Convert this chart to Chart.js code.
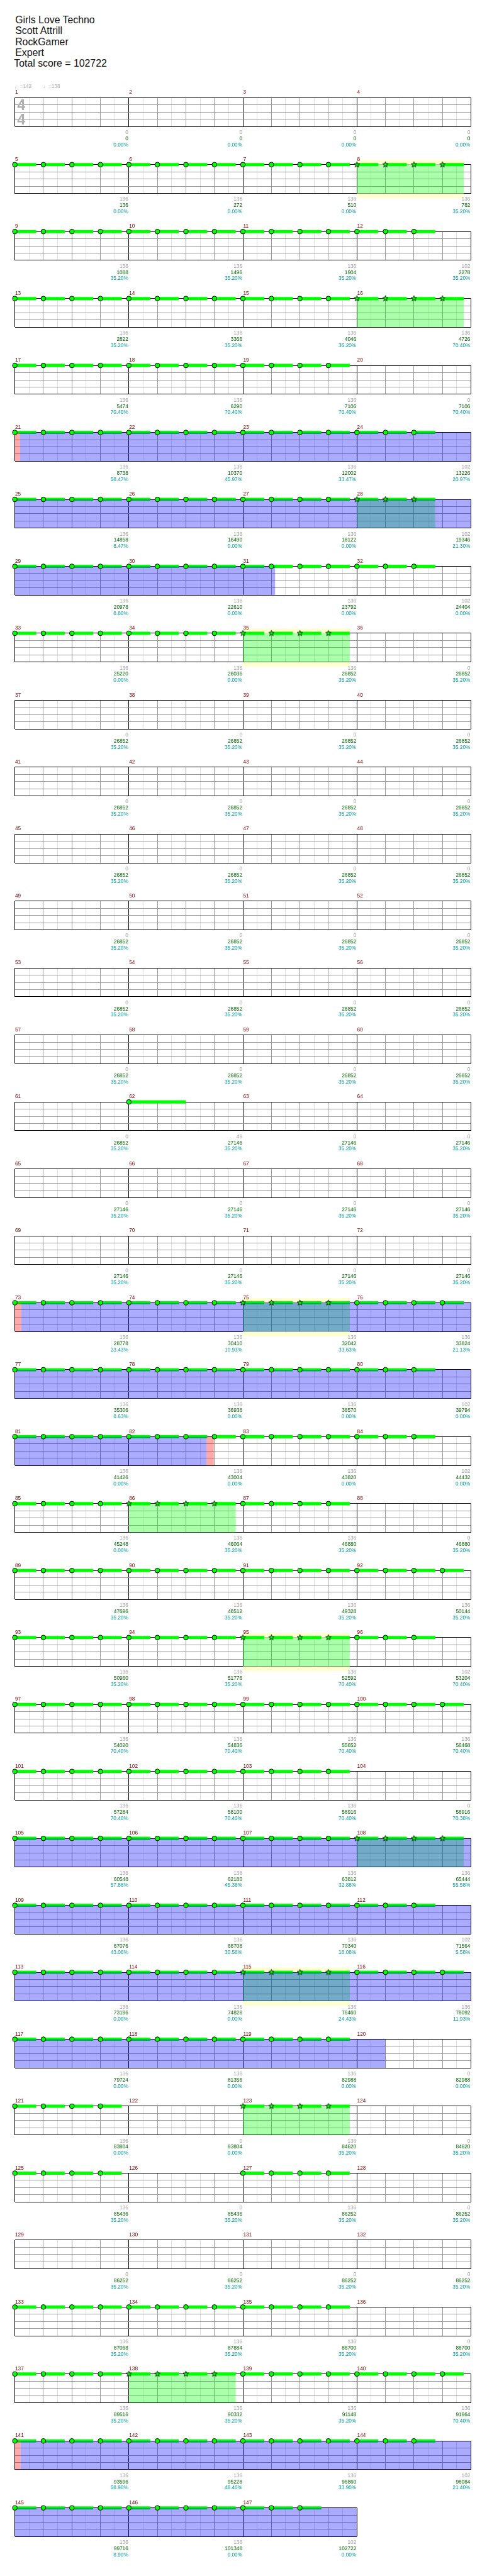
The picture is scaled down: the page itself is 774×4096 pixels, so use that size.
<!DOCTYPE html>
<html>
<head>
<meta charset="utf-8">
<script src="https://cdn.jsdelivr.net/npm/chart.js@4.4.1/dist/chart.umd.min.js"></script>
<style>
  html, body { margin: 0; padding: 0; background: #fff; }
  #page { position: relative; width: 774px; height: 4096px; overflow: hidden; }
  .hdr { position: absolute; white-space: nowrap; color: #111; font-family: "Liberation Sans", Arial, sans-serif; line-height: 1; }
  .row { position: absolute; left: 0; }
</style>
</head>
<body>
<div id="page"></div>
<script>
// song info
const songInfo = ['Girls Love Techno', 'Scott Attrill', 'RockGamer', 'Expert'];
const totalScore = 102722;

// tempo changes (beat, bpm) and time signature
const tempoBeats = [0, 1];
const tempoValues = [142, 138];
const timeSig = [4, 4];

// notes in each measure, one per beat from the downbeat, all on the top lane
const noteCounts = [
  0,0,0,0,  4,4,4,4,  4,4,4,3,  4,4,4,4,  4,4,4,0,
  4,4,4,3,  4,4,4,3,  4,4,4,3,  4,4,4,0,  0,0,0,0,
  0,0,0,0,  0,0,0,0,  0,0,0,0,  0,0,0,0,  0,0,0,0,
  0,1,0,0,  0,0,0,0,  0,0,0,0,  4,4,4,4,  4,4,4,3,
  4,4,4,3,  4,4,4,0,  4,4,4,4,  4,4,4,3,  4,4,4,4,
  4,4,4,0,  4,4,4,4,  4,4,4,3,  4,4,4,4,  4,4,4,0,
  4,0,4,0,  4,0,4,0,  0,0,0,0,  4,4,4,0,  4,4,4,4,
  4,4,4,3,  4,4,3
];
// sustain length in beats (normal notes) and the one long sustain
const sustainBeats = 0.75;
const longSustainMeasure = 62;
const longSustainBeats = 2;

// star power phrases (measures whose notes are stars)
const starMeasures = [8, 16, 28, 35, 75, 86, 95, 108, 115, 123, 138];
// star phrases that get the yellow band
const yellowMeasures = [8, 35, 75, 95, 115];

// overdrive spans in song beats, and the red activation marks
const overdriveStart = [80.18, 288.22, 416, 560.2];
const overdriveEnd   = [121.13, 326.73, 477, 589.4];
const markStart = [80, 288, 326.73, 560, 589.4];
const markEnd   = [80.18, 288.22, 326.98, 560.2, 589.65];

// per-measure score, running total and percentage
const measureScores = [
  0,0,0,0,  136,136,136,136,  136,136,136,102,  136,136,136,136,  136,136,136,0,
  136,136,136,102,  136,136,136,102,  136,136,136,102,  136,136,136,0,  0,0,0,0,
  0,0,0,0,  0,0,0,0,  0,0,0,0,  0,0,0,0,  0,0,0,0,
  0,49,0,0,  0,0,0,0,  0,0,0,0,  136,136,136,136,  136,136,136,102,
  136,136,136,102,  136,136,136,0,  136,136,136,136,  136,136,136,102,  136,136,136,136,
  136,136,136,0,  136,136,136,136,  136,136,136,102,  136,136,136,136,  136,136,136,0,
  136,0,136,0,  136,0,136,0,  0,0,0,0,  136,136,136,0,  136,136,136,136,
  136,136,136,102,  136,136,102
];
const runningTotals = [
  0,0,0,0,  136,272,510,782,  1088,1496,1904,2278,  2822,3366,4046,4726,  5474,6290,7106,7106,
  8738,10370,12002,13226,  14858,16490,18122,19346,  20978,22610,23792,24404,  25220,26036,26852,26852,
  26852,26852,26852,26852,  26852,26852,26852,26852,  26852,26852,26852,26852,  26852,26852,26852,26852,
  26852,26852,26852,26852,  26852,26852,26852,26852,  26852,27146,27146,27146,  27146,27146,27146,27146,
  27146,27146,27146,27146,  28778,30410,32042,33824,  35306,36938,38570,39794,  41426,43004,43820,44432,
  45248,46064,46880,46880,  47696,48512,49328,50144,  50960,51776,52592,53204,  54020,54836,55652,56468,
  57284,58100,58916,58916,  60548,62180,63812,65444,  67076,68708,70340,71564,  73196,74828,76460,78092,
  79724,81356,82988,82988,  83804,83804,84620,84620,  85436,85436,86252,86252,  86252,86252,86252,86252,
  87068,87884,88700,88700,  89516,90332,91148,91964,  93596,95228,96860,98084,  99716,101348,102722
];
const percents = [
  0,0,0,0,  0,0,0,35.20,  35.20,35.20,35.20,35.20,  35.20,35.20,35.20,70.40,  70.40,70.40,70.40,70.40,
  58.47,45.97,33.47,20.97,  8.47,0,0,21.30,  8.80,0,0,0,  0,0,35.20,35.20,
  35.20,35.20,35.20,35.20,  35.20,35.20,35.20,35.20,  35.20,35.20,35.20,35.20,  35.20,35.20,35.20,35.20,
  35.20,35.20,35.20,35.20,  35.20,35.20,35.20,35.20,  35.20,35.20,35.20,35.20,  35.20,35.20,35.20,35.20,
  35.20,35.20,35.20,35.20,  23.43,10.93,33.63,21.13,  8.63,0,0,0,  0,0,0,0,
  0,35.20,35.20,35.20,  35.20,35.20,35.20,35.20,  35.20,35.20,70.40,70.40,  70.40,70.40,70.40,70.40,
  70.40,70.40,70.40,70.38,  57.88,45.38,32.88,55.58,  43.08,30.58,18.08,5.58,  0,0,24.43,11.93,
  0,0,0,0,  0,0,35.20,35.20,  35.20,35.20,35.20,35.20,  35.20,35.20,35.20,35.20,
  35.20,35.20,35.20,35.20,  35.20,35.20,35.20,70.40,  58.90,46.40,33.90,21.40,  8.90,0,0
];

// ---- layout (reference pixels, drawn at scale S) ----
const S = 0.755;
const ROW0_TOP = 205.7, ROW_PITCH = 141, STAFF_H = 60.6;
const STAFF_LEFT = 31.3, MEASURE_W = 240, PAD_TOP = 35, ROW_H = 142;
const FONT = '"Liberation Sans", Arial, sans-serif';

const page = document.getElementById('page');

// header text
const hdrLines = songInfo.concat(['Total score = ' + totalScore]);
hdrLines.forEach((t, i) => {
  const d = document.createElement('div');
  d.className = 'hdr';
  const f = 21 * S;
  d.style.fontSize = f + 'px';
  d.style.left = ((i === 4 ? 29.5 : 32) * S) + 'px';
  d.style.top = ((49.3 + 23 * i) * S - 0.8465 * f) + 'px';
  d.textContent = t;
  page.appendChild(d);
});

function makeStar(r) {
  const c = document.createElement('canvas');
  const size = Math.ceil(r * 2 + 3);
  c.width = c.height = size;
  const g = c.getContext('2d');
  g.beginPath();
  for (let i = 0; i < 10; i++) {
    const a = -Math.PI / 2 + i * Math.PI / 5;
    const rr = i % 2 ? r * 0.42 : r;
    g.lineTo(size / 2 + rr * Math.cos(a), size / 2 + rr * Math.sin(a));
  }
  g.closePath();
  g.fillStyle = '#00ff00';
  g.fill();
  g.strokeStyle = '#000';
  g.lineWidth = 0.9;
  g.stroke();
  return c;
}
const starImg = makeStar(6.2 * S);

const nMeasures = noteCounts.length;
const nRows = Math.ceil(nMeasures / 4);

function newRow(k) {
  const first = k * 4 + 1;
  const nMeas = Math.min(4, nMeasures - k * 4);
  const nBeats = nMeas * 4;
  const rowBeat = k * 16;

  const wrap = document.createElement('div');
  wrap.className = 'row';
  const top = Math.round((ROW0_TOP + ROW_PITCH * k - PAD_TOP) * S);
  const padTop = (ROW0_TOP + ROW_PITCH * k) * S - top;
  wrap.style.top = top + 'px';
  const cv = document.createElement('canvas');
  const H = Math.round(ROW_H * S);
  cv.width = 774; cv.height = H;
  cv.style.width = '774px'; cv.style.height = H + 'px';
  wrap.appendChild(cv);
  page.appendChild(wrap);

  const notes = [], styles = [], radii = [], sus = [];
  for (let j = 0; j < nMeas; j++) {
    const m = first + j;
    const star = starMeasures.includes(m);
    for (let i = 0; i < noteCounts[m - 1]; i++) {
      const x = j * 4 + i;
      notes.push({ x: x, y: 4 });
      styles.push(star ? starImg : 'circle');
      radii.push(5 * S);
      const len = m === longSustainMeasure ? longSustainBeats : sustainBeats;
      sus.push({ x: x, y: 4 }, { x: x + len, y: 4 }, { x: x + len, y: null });
    }
  }

  const gridTicks = [];
  for (let b = 0; b <= nBeats; b += 0.5) gridTicks.push({ value: b });

  const decor = {
    id: 'decor' + k,
    beforeDatasetsDraw(chart) {
      const { ctx, chartArea: a, scales: { x } } = chart;
      ctx.save();
      ctx.fillStyle = 'rgb(255,255,208)';
      yellowMeasures.forEach(m => {
        const j = m - first;
        if (j < 0 || j >= nMeas) return;
        const x0 = x.getPixelForValue(j * 4), x1 = x.getPixelForValue(j * 4 + 3 + sustainBeats);
        ctx.fillRect(x0, a.top - 10 * S, x1 - x0, 10 * S);
        ctx.fillRect(x0, a.bottom, x1 - x0, 10 * S);
      });
      ctx.restore();
    },
    afterDatasetDraw(chart, args) {
      if (args.index !== 1) return;
      const { ctx, chartArea: a, scales: { x } } = chart;
      const span = (b0, b1, col) => {
        const l0 = Math.max(0, b0 - rowBeat), l1 = Math.min(nBeats, b1 - rowBeat);
        if (l1 <= l0) return;
        const x0 = x.getPixelForValue(l0), x1 = x.getPixelForValue(l1);
        ctx.fillStyle = col;
        ctx.fillRect(x0, a.top, x1 - x0, a.bottom - a.top);
      };
      ctx.save();
      starMeasures.forEach(m => {
        const b = (m - 1) * 4;
        span(b, b + (noteCounts[m - 1] - 1) + sustainBeats, 'rgba(0,255,0,0.333)');
      });
      overdriveStart.forEach((b, i) => span(b, overdriveEnd[i], 'rgba(0,0,255,0.333)'));
      markStart.forEach((b, i) => span(b, markEnd[i], 'rgba(255,0,0,0.333)'));
      ctx.restore();
    },
    afterDraw(chart) {
      const { ctx, chartArea: a, scales: { x } } = chart;
      ctx.save();
      ctx.font = (11 * S) + 'px ' + FONT;
      ctx.textBaseline = 'alphabetic';
      for (let j = 0; j < nMeas; j++) {
        const m = first + j;
        const xl = x.getPixelForValue(j * 4), xr = x.getPixelForValue(j * 4 + 4);
        ctx.textAlign = 'left';
        ctx.fillStyle = '#800000';
        ctx.fillText(String(m), xl + 0.5 * S, a.top - 7.7 * S);
        ctx.textAlign = 'right';
        ctx.fillStyle = '#a0a0a0';
        ctx.fillText(String(measureScores[m - 1]), xr - 1.3 * S, a.bottom + 15.7 * S);
        ctx.fillStyle = '#006400';
        ctx.fillText(String(runningTotals[m - 1]), xr - 1.3 * S, a.bottom + 28.7 * S);
        ctx.fillStyle = '#009b9b';
        ctx.fillText(percents[m - 1].toFixed(2) + '%', xr - 1.3 * S, a.bottom + 41.7 * S);
      }
      if (k === 0) {
        ctx.textAlign = 'left';
        ctx.fillStyle = '#a8a8a8';
        ctx.font = (11 * S) + 'px ' + FONT + ', "DejaVu Sans"';
        tempoBeats.forEach((b, i) => {
          ctx.fillText('\u2669=' + tempoValues[i], x.getPixelForValue(b) - 0.5 * S, a.top - 20 * S);
        });
        ctx.font = 'bold ' + (31 * S) + 'px ' + FONT;
        ctx.fillStyle = '#b0b0b0';
        ctx.fillText(String(timeSig[0]), a.left + 4.7 * S, a.top + 26.3 * S);
        ctx.fillText(String(timeSig[1]), a.left + 4.7 * S, a.top + 56.3 * S);
      }
      ctx.restore();
    }
  };

  const zeroH = s => { s.height = 0; };
  const zeroW = s => { s.width = 0; };

  return new Chart(cv, {
    type: 'scatter',
    data: {
      datasets: [
        {
          label: 'notes', data: notes, order: 0, clip: false,
          pointStyle: styles, pointRadius: radii,
          pointBackgroundColor: '#00ff00', pointBorderColor: '#000', pointBorderWidth: 1
        },
        {
          label: 'sustains', type: 'line', data: sus, order: 1, clip: false,
          showLine: true, spanGaps: false, tension: 0,
          borderColor: '#00ff00', borderWidth: 6.7 * S, borderCapStyle: 'butt', pointRadius: 0
        }
      ]
    },
    options: {
      responsive: false, animation: false, devicePixelRatio: 1, events: [],
      layout: {
        autoPadding: false,
        padding: {
          left: STAFF_LEFT * S,
          right: 774 - (STAFF_LEFT + nMeas * MEASURE_W) * S,
          top: padTop,
          bottom: H - padTop - STAFF_H * S
        }
      },
      plugins: { legend: { display: false }, tooltip: { enabled: false } },
      scales: {
        x: {
          type: 'linear', min: 0, max: nBeats,
          afterBuildTicks: s => { s.ticks = gridTicks.slice(); },
          afterFit: zeroH,
          ticks: { display: false },
          border: { display: false },
          grid: {
            drawTicks: false, lineWidth: 1,
            color: c => c.tick.value % 4 === 0 ? '#000' : (Number.isInteger(c.tick.value) ? '#999' : '#ddd')
          }
        },
        y: {
          type: 'linear', min: 0, max: 4,
          afterBuildTicks: s => { s.ticks = [0, 1, 2, 3, 4].map(v => ({ value: v })); },
          afterFit: zeroW,
          ticks: { display: false },
          border: { display: false },
          grid: {
            drawTicks: false, lineWidth: 1,
            color: c => (c.tick.value === 0 || c.tick.value === 4) ? '#000' : '#999'
          }
        }
      }
    },
    plugins: [decor]
  });
}

for (let k = 0; k < nRows; k++) newRow(k);
</script>
</body>
</html>
